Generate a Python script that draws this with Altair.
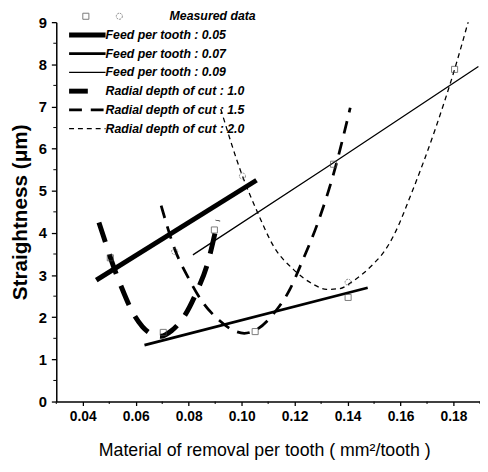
import altair as alt
import pandas as pd

# ---------------- data ----------------
feed005_x = [0.0451, 0.1056]
feed005_y = [2.88, 5.25]
feed007_x = [0.0633, 0.1476]
feed007_y = [1.34, 2.70]
feed009_x = [0.0816, 0.1321, 0.1894]
feed009_y = [3.48, 5.56, 7.95]

rdoc10_x = [0.0461, 0.0487, 0.0509, 0.0547, 0.0588, 0.0625, 0.0655, 0.0695, 0.0735, 0.0786, 0.0830, 0.0870, 0.0910]
rdoc10_y = [4.25, 3.75, 3.33, 2.70, 2.12, 1.78, 1.62, 1.55, 1.68, 2.05, 2.60, 3.25, 4.30]

rdoc15_x = [0.0696, 0.0747, 0.0800, 0.0850, 0.0915, 0.0975, 0.1010, 0.1060, 0.1120, 0.1182, 0.1227, 0.1291, 0.1347, 0.1410]
rdoc15_y = [4.65, 3.62, 2.92, 2.38, 1.93, 1.67, 1.62, 1.72, 2.08, 2.66, 3.30, 4.30, 5.40, 6.97]

rdoc20_x = [0.0921, 0.1003, 0.1059, 0.1121, 0.1196, 0.1271, 0.1320, 0.1370, 0.1421, 0.1495, 0.1545, 0.1575, 0.1645, 0.1732, 0.1804, 0.1856]
rdoc20_y = [6.94, 5.35, 4.50, 3.68, 3.13, 2.78, 2.66, 2.68, 2.86, 3.25, 3.62, 3.95, 5.00, 6.48, 7.88, 9.02]

meas_sq_x = [0.0504, 0.0704, 0.0897, 0.1051, 0.1347, 0.1402, 0.1804]
meas_sq_y = [3.41, 1.64, 4.07, 1.66, 5.63, 2.47, 7.88]
meas_ci_x = [0.0747, 0.1003, 0.1402]
meas_ci_y = [3.56, 5.35, 2.83]

x_ticks = [0.04, 0.06, 0.08, 0.10, 0.12, 0.14, 0.16, 0.18]
x_minor = [0.03, 0.05, 0.07, 0.09, 0.11, 0.13, 0.15, 0.17, 0.19]
y_ticks = [0, 1, 2, 3, 4, 5, 6, 7, 8, 9]
y_minor = [0.5, 1.5, 2.5, 3.5, 4.5, 5.5, 6.5, 7.5, 8.5]

legend_labels = [
    "Measured data",
    "Feed per tooth : 0.05",
    "Feed per tooth : 0.07",
    "Feed per tooth : 0.09",
    "Radial depth of cut : 1.0",
    "Radial depth of cut : 1.5",
    "Radial depth of cut : 2.0",
]

# ---------------- layout / styles ----------------
W, H = 430, 385
FONT = "Liberation Sans"
styles = [
    dict(strokeWidth=5.0),
    dict(strokeWidth=2.8),
    dict(strokeWidth=1.3),
    dict(strokeWidth=5.0, strokeDash=[21, 13]),
    dict(strokeWidth=2.8, strokeDash=[13, 9]),
    dict(strokeWidth=1.3, strokeDash=[5, 4]),
]
series = [
    (feed005_x, feed005_y),
    (feed007_x, feed007_y),
    (feed009_x, feed009_y),
    (rdoc10_x, rdoc10_y),
    (rdoc15_x, rdoc15_y),
    (rdoc20_x, rdoc20_y),
]

xscale = alt.Scale(domain=[0.03, 0.19], nice=False, zero=False)
yscale = alt.Scale(domain=[0, 9], nice=False, zero=True)
xaxis = alt.Axis(
    values=x_ticks, format=".2f", title="Material of removal per tooth ( mm²/tooth )",
    grid=False, domainColor="black", domainWidth=1.5, tickColor="black", tickWidth=1.3,
    tickSize=4, labelPadding=4, labelFont=FONT, labelFontSize=14, labelFontWeight="bold",
    labelColor="black", titleFont=FONT, titleFontSize=18, titleFontWeight="normal",
    titleColor="black", titleX=W / 2 - 4, titleY=55, titleBaseline="alphabetic",
    titleAlign="center", titleAnchor="middle", labelFlush=False,
)
yaxis = alt.Axis(
    values=y_ticks, format="d", title="Straightness (μm)",
    grid=False, domainColor="black", domainWidth=1.5, tickColor="black", tickWidth=1.3,
    tickSize=5, labelPadding=5, labelFont=FONT, labelFontSize=15, labelFontWeight="bold",
    labelColor="black", titleFont=FONT, titleFontSize=21, titleFontWeight="bold",
    titleColor="black", titleAngle=270, titleX=-36, titleY=H / 2, titleAlign="center",
    titleBaseline="middle", labelFlush=False,
)

def X():
    return alt.X("x:Q", scale=xscale, axis=xaxis)

def Y():
    return alt.Y("y:Q", scale=yscale, axis=yaxis)

layers = []
for (xs, ys), st in zip(series, styles):
    df = pd.DataFrame({"x": xs, "y": ys})
    layers.append(
        alt.Chart(df).mark_line(color="black", clip=True, interpolate="monotone", **st)
        .encode(x=X(), y=Y())
    )

sq = pd.DataFrame({"x": meas_sq_x, "y": meas_sq_y})
ci = pd.DataFrame({"x": meas_ci_x, "y": meas_ci_y})
layers.append(alt.Chart(sq).mark_point(shape="square", size=38, filled=False, color="#444",
                                       strokeWidth=1).encode(x=X(), y=Y()))
layers.append(alt.Chart(ci).mark_point(shape="circle", size=38, filled=False, color="#555",
                                       strokeWidth=1, strokeDash=[2, 1]).encode(x=X(), y=Y()))

# minor ticks
layers.append(alt.Chart(pd.DataFrame({"x": x_minor})).mark_rule(color="black", strokeWidth=1)
              .encode(x=X(), y=alt.value(H), y2=alt.value(H + 2.5)))
layers.append(alt.Chart(pd.DataFrame({"y": y_minor})).mark_rule(color="black", strokeWidth=1)
              .encode(y=Y(), x=alt.value(-3), x2=alt.value(0)))

# legend
row_y0, row_dy = -6, 19
sw_x0, sw_x1, txt_x = 13, 50, 50
for i, lab in enumerate(legend_labels):
    yy = row_y0 + i * row_dy
    tx = 115 if i == 0 else txt_x
    layers.append(
        alt.Chart(pd.DataFrame({"t": [lab]})).mark_text(
            align="left", baseline="middle", font=FONT, fontSize=12.5,
            fontWeight="bold", fontStyle="italic", color="black"
        ).encode(x=alt.value(tx), y=alt.value(yy), text="t:N")
    )
    if i == 0:
        continue
    st = styles[i - 1]
    x1 = sw_x1
    if i == 4:
        x1 = sw_x0 + 19
    layers.append(
        alt.Chart(pd.DataFrame({"t": [lab]})).mark_rule(color="black", **st)
        .encode(x=alt.value(sw_x0), x2=alt.value(x1), y=alt.value(yy))
    )

layers.append(alt.Chart(pd.DataFrame({"t": ["sq"]})).mark_point(
    shape="square", size=38, filled=False, color="#444", strokeWidth=1)
    .encode(x=alt.value(30), y=alt.value(row_y0)))
layers.append(alt.Chart(pd.DataFrame({"t": ["ci"]})).mark_point(
    shape="circle", size=38, filled=False, color="#555", strokeWidth=1, strokeDash=[2, 1])
    .encode(x=alt.value(64), y=alt.value(row_y0)))

chart = alt.layer(*layers).properties(
    width=W, height=H,
    autosize=alt.AutoSizeParams(type="none"),
    padding={"left": 49, "top": 11, "right": 0, "bottom": 60},
    background="white",
).configure_view(stroke=None)

chart.save("out.html", embed_options={"renderer": "svg", "actions": False})
